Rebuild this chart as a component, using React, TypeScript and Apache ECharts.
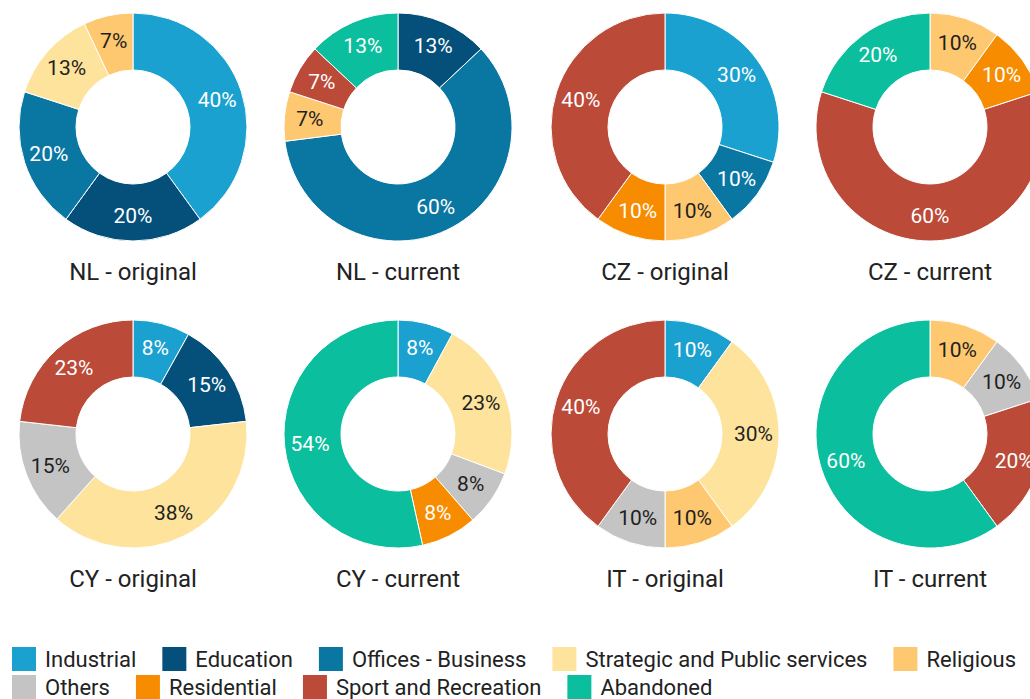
import React, { useEffect, useRef } from "react";
import * as echarts from "echarts";

const categories = [
  "Industrial",
  "Education",
  "Offices - Business",
  "Strategic and Public services",
  "Religious",
  "Others",
  "Residential",
  "Sport and Recreation",
  "Abandoned",
];

const colors = [
  "#1aa1cf",
  "#04507a",
  "#0a77a2",
  "#fde39c",
  "#fec870",
  "#c4c4c4",
  "#f78c00",
  "#bb4a38",
  "#0bbe9d",
];

const darkLabel = [false, false, false, true, true, true, false, false, false];

const chartTitles = [
  "NL - original",
  "NL - current",
  "CZ - original",
  "CZ - current",
  "CY - original",
  "CY - current",
  "IT - original",
  "IT - current",
];

// values in % per category (legend order), 0 = absent
const nlOriginal = [40, 20, 20, 13, 7, 0, 0, 0, 0];
const nlCurrent = [0, 13, 60, 0, 7, 0, 0, 7, 13];
const czOriginal = [30, 0, 10, 0, 10, 0, 10, 40, 0];
const czCurrent = [0, 0, 0, 0, 10, 0, 10, 60, 20];
const cyOriginal = [8, 15, 0, 38, 0, 15, 0, 23, 0];
const cyCurrent = [8, 0, 0, 23, 0, 8, 8, 0, 54];
const itOriginal = [10, 0, 0, 30, 10, 10, 0, 40, 0];
const itCurrent = [0, 0, 0, 0, 10, 10, 0, 20, 60];

const allValues = [
  nlOriginal,
  nlCurrent,
  czOriginal,
  czCurrent,
  cyOriginal,
  cyCurrent,
  itOriginal,
  itCurrent,
];

const colX = [133, 398, 665, 930];
const rowY = [127, 434];
const titleY = [272, 579];

export default function App() {
  const ref = useRef<HTMLDivElement>(null);

  useEffect(() => {
    document.body.style.margin = "0";
    if (!ref.current) return;
    const chart = echarts.init(ref.current, undefined, { renderer: "svg" });

    const series = allValues.map((vals, i) => {
      const cx = colX[i % 4];
      const cy = rowY[Math.floor(i / 4)];
      const data = vals
        .map((v, k) => ({
          name: categories[k],
          value: v,
          itemStyle: { color: colors[k] },
          label: { color: darkLabel[k] ? "#1f1f1f" : "#ffffff" },
        }))
        .filter((d) => d.value > 0);
      return {
        type: "pie",
        name: chartTitles[i],
        center: [cx, cy],
        radius: [57, 114],
        startAngle: 90,
        clockwise: true,
        avoidLabelOverlap: false,
        itemStyle: { borderColor: "#ffffff", borderWidth: 1 },
        label: {
          show: true,
          position: "inside",
          formatter: "{c}%",
          fontSize: 21,
          fontFamily: "Roboto",
        },
        labelLine: { show: false },
        emphasis: { disabled: true },
        data,
      };
    });

    const titles = chartTitles.map((t, i) => ({
      type: "text",
      x: colX[i % 4],
      y: titleY[Math.floor(i / 4)],
      style: {
        text: t,
        fill: "#222222",
        font: "24px Roboto",
        textAlign: "center",
        textVerticalAlign: "middle",
      },
    }));

    const legendCommon = {
      orient: "horizontal",
      left: 10,
      itemWidth: 26,
      itemHeight: 26,
      itemGap: 24,
      icon: "rect",
      padding: 0,
      selectedMode: false,
      textStyle: {
        fontSize: 22,
        fontFamily: "Roboto",
        color: "#222222",
        padding: [0, 0, 0, 3],
      },
    };

    chart.setOption({
      animation: false,
      textStyle: { fontFamily: "Roboto" },
      legend: [
        { ...legendCommon, top: 645, data: categories.slice(0, 5) },
        { ...legendCommon, top: 673, data: categories.slice(5) },
      ],
      graphic: titles,
      series,
    });

    return () => {
      chart.dispose();
    };
  }, []);

  return <div ref={ref} style={{ width: 1030, height: 699 }} />;
}
